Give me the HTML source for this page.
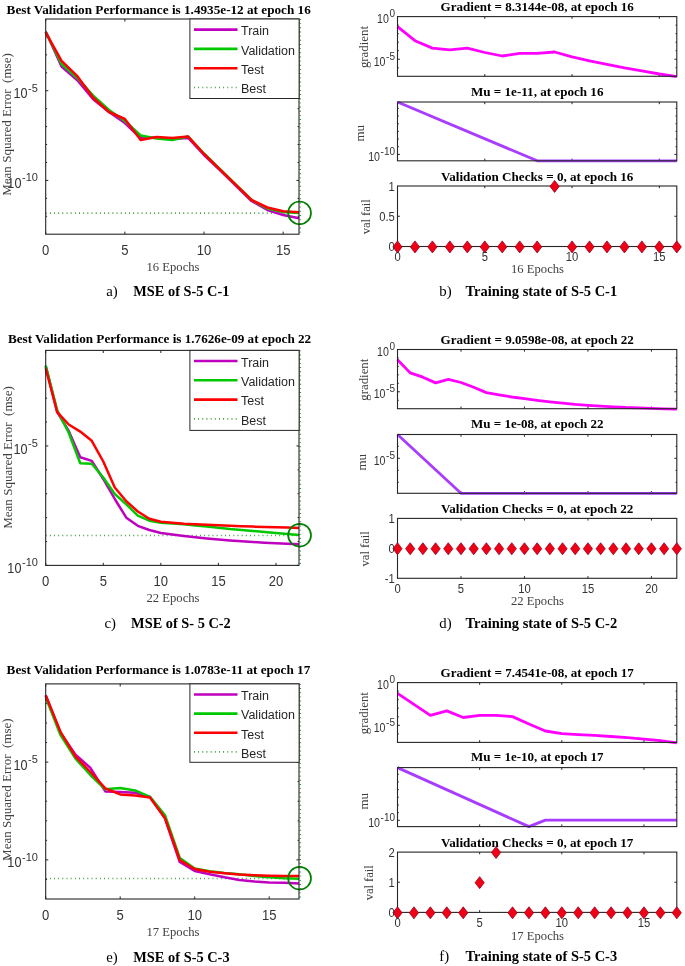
<!DOCTYPE html>
<html><head><meta charset="utf-8"><title>Training performance</title>
<style>html,body{margin:0;padding:0;background:#fff;}svg{display:block;will-change:transform;}</style>
</head><body>
<svg width="685" height="966" viewBox="0 0 685 966">
<rect width="685" height="966" fill="#fff"/>
<text x="158.7" y="13.9" font-size="13.4" font-family="'Liberation Serif', serif" font-weight="bold" text-anchor="middle" fill="#000" textLength="304.2" lengthAdjust="spacingAndGlyphs" >Best Validation Performance is 1.4935e-12 at epoch 16</text>
<line x1="45.7" y1="213.2" x2="299" y2="213.2" stroke="#339933" stroke-width="1.7" stroke-dasharray="0.9 3.27"/>
<line x1="300.2" y1="19" x2="300.2" y2="234.2" stroke="#339933" stroke-width="1.7" stroke-dasharray="0.9 3.27"/>
<path d="M45.7 234.2v-2.6 M45.7 19v2.6 M124.86 234.2v-2.6 M124.86 19v2.6 M204.01 234.2v-2.6 M204.01 19v2.6 M283.17 234.2v-2.6 M283.17 19v2.6 " stroke="#262626" stroke-width="1" fill="none"/>
<path d="M45.7 216.27h1.4 M299 216.27h-1.4 M45.7 198.33h1.4 M299 198.33h-1.4 M45.7 162.47h1.4 M299 162.47h-1.4 M45.7 144.53h1.4 M299 144.53h-1.4 M45.7 126.6h1.4 M299 126.6h-1.4 M45.7 108.67h1.4 M299 108.67h-1.4 M45.7 72.8h1.4 M299 72.8h-1.4 M45.7 54.87h1.4 M299 54.87h-1.4 M45.7 36.93h1.4 M299 36.93h-1.4 " stroke="#262626" stroke-width="1" fill="none"/>
<path d="M45.7 90.73h2.6 M299 90.73h-2.6 M45.7 180.4h2.6 M299 180.4h-2.6 " stroke="#262626" stroke-width="1" fill="none"/>
<polyline points="45.7,31.5 61.53,66.6 77.36,80.3 93.19,99.3 109.03,112 124.86,123 140.69,138 156.52,137.5 172.35,139 188.18,138 204.01,155 219.84,170 235.68,185.5 251.51,201 267.34,210 283.17,215 299,218.3" fill="none" stroke="#bf00bf" stroke-width="2.5" stroke-linejoin="round" stroke-linecap="butt" />
<polyline points="45.7,32 61.53,64 77.36,78 93.19,95.6 109.03,110 124.86,121 140.69,135.5 156.52,138.5 172.35,140 188.18,136.5 204.01,153.5 219.84,169 235.68,184.5 251.51,200 267.34,208.5 283.17,212 299,213" fill="none" stroke="#00c800" stroke-width="2.5" stroke-linejoin="round" stroke-linecap="butt" />
<polyline points="45.7,32.3 61.53,60.9 77.36,76.2 93.19,97.7 109.03,112 124.86,119 140.69,140 156.52,137 172.35,138 188.18,136.6 204.01,154 219.84,169.3 235.68,184.6 251.51,200 267.34,207.5 283.17,211.2 299,212.2" fill="none" stroke="#ff0000" stroke-width="2.5" stroke-linejoin="round" stroke-linecap="butt" />
<circle cx="299.6" cy="212.9" r="11.4" fill="none" stroke="#008000" stroke-width="1.7"/>
<rect x="45.7" y="19" width="253.3" height="215.2" fill="none" stroke="#262626" stroke-width="1.1"/>
<rect x="189.9" y="19" width="109.2" height="79.5" fill="#fff" stroke="#262626" stroke-width="1"/>
<line x1="194" y1="29.6" x2="237.5" y2="29.6" stroke="#bf00bf" stroke-width="2.6"/>
<text x="241" y="35.4" font-size="12.5" font-family="'Liberation Sans', sans-serif" font-weight="normal" text-anchor="start" fill="#262626" >Train</text>
<line x1="194" y1="48.9" x2="237.5" y2="48.9" stroke="#00c800" stroke-width="2.6"/>
<text x="241" y="54.7" font-size="12.5" font-family="'Liberation Sans', sans-serif" font-weight="normal" text-anchor="start" fill="#262626" >Validation</text>
<line x1="194" y1="68.2" x2="237.5" y2="68.2" stroke="#ff0000" stroke-width="2.6"/>
<text x="241" y="74" font-size="12.5" font-family="'Liberation Sans', sans-serif" font-weight="normal" text-anchor="start" fill="#262626" >Test</text>
<line x1="194" y1="87.5" x2="237.5" y2="87.5" stroke="#339933" stroke-width="1.7" stroke-dasharray="0.9 3.27"/>
<text x="241" y="93.3" font-size="12.5" font-family="'Liberation Sans', sans-serif" font-weight="normal" text-anchor="start" fill="#262626" >Best</text>
<text transform="translate(45.7,254.6) scale(0.9,1.04)" font-size="14.5" font-family="'Liberation Sans', sans-serif" font-weight="normal" text-anchor="middle" fill="#333333" >0</text>
<text transform="translate(124.86,254.6) scale(0.9,1.04)" font-size="14.5" font-family="'Liberation Sans', sans-serif" font-weight="normal" text-anchor="middle" fill="#333333" >5</text>
<text transform="translate(204.01,254.6) scale(0.9,1.04)" font-size="14.5" font-family="'Liberation Sans', sans-serif" font-weight="normal" text-anchor="middle" fill="#333333" >10</text>
<text transform="translate(283.17,254.6) scale(0.9,1.04)" font-size="14.5" font-family="'Liberation Sans', sans-serif" font-weight="normal" text-anchor="middle" fill="#333333" >15</text>
<text x="37.9" y="91.63" font-size="11" font-family="'Liberation Sans', sans-serif" fill="#333333" text-anchor="end">-5</text>
<text transform="translate(27.52,98.33) scale(0.87,1.03)" font-size="14.5" font-family="'Liberation Sans', sans-serif" fill="#333333" text-anchor="end">10</text>
<text x="37.9" y="181.3" font-size="11" font-family="'Liberation Sans', sans-serif" fill="#333333" text-anchor="end">-10</text>
<text transform="translate(21.4,188) scale(0.87,1.03)" font-size="14.5" font-family="'Liberation Sans', sans-serif" fill="#333333" text-anchor="end">10</text>
<text transform="translate(10.9,124.5) rotate(-90)" x="0" y="0" font-size="13" font-family="'Liberation Serif', serif" text-anchor="middle" fill="#404040" textLength="142.6" lengthAdjust="spacingAndGlyphs" xml:space="preserve">Mean Squared Error  (mse)</text>
<text x="173" y="270.6" font-size="13" font-family="'Liberation Serif', serif" font-weight="normal" text-anchor="middle" fill="#404040" textLength="53" lengthAdjust="spacingAndGlyphs" >16 Epochs</text>
<text x="106.3" y="295.8" font-size="14.8" font-family="'Liberation Serif', serif" font-weight="normal" text-anchor="start" fill="#000" >a)</text>
<text x="133.3" y="295.8" font-size="14.8" font-family="'Liberation Serif', serif" font-weight="bold" text-anchor="start" fill="#000" textLength="96.1" lengthAdjust="spacingAndGlyphs" >MSE of S-5 C-1</text>
<text x="159.55" y="343" font-size="13.4" font-family="'Liberation Serif', serif" font-weight="bold" text-anchor="middle" fill="#000" textLength="303.3" lengthAdjust="spacingAndGlyphs" >Best Validation Performance is 1.7626e-09 at epoch 22</text>
<line x1="45.7" y1="535.5" x2="299" y2="535.5" stroke="#339933" stroke-width="1.7" stroke-dasharray="0.9 3.27"/>
<line x1="300.2" y1="350.4" x2="300.2" y2="565.4" stroke="#339933" stroke-width="1.7" stroke-dasharray="0.9 3.27"/>
<path d="M45.7 565.4v-2.6 M45.7 350.4v2.6 M103.27 565.4v-2.6 M103.27 350.4v2.6 M160.84 565.4v-2.6 M160.84 350.4v2.6 M218.4 565.4v-2.6 M218.4 350.4v2.6 M275.97 565.4v-2.6 M275.97 350.4v2.6 " stroke="#262626" stroke-width="1" fill="none"/>
<path d="M45.7 541.51h1.4 M299 541.51h-1.4 M45.7 517.62h1.4 M299 517.62h-1.4 M45.7 493.73h1.4 M299 493.73h-1.4 M45.7 469.84h1.4 M299 469.84h-1.4 M45.7 422.07h1.4 M299 422.07h-1.4 M45.7 398.18h1.4 M299 398.18h-1.4 M45.7 374.29h1.4 M299 374.29h-1.4 " stroke="#262626" stroke-width="1" fill="none"/>
<path d="M45.7 445.96h2.6 M299 445.96h-2.6 M45.7 565.4h2.6 M299 565.4h-2.6 " stroke="#262626" stroke-width="1" fill="none"/>
<polyline points="45.7,366 57.21,412 68.73,431 80.24,457.2 91.75,460.9 103.27,479 114.78,499 126.3,517.7 137.81,525.8 149.32,530 160.84,533 172.35,534.5 183.86,536 195.38,537.3 206.89,538.5 218.4,539.5 229.92,540.5 241.43,541.3 252.95,542 264.46,542.7 275.97,543.3 287.49,543.8 299,544.2" fill="none" stroke="#bf00bf" stroke-width="2.5" stroke-linejoin="round" stroke-linecap="butt" />
<polyline points="45.7,365.6 57.21,410.2 68.73,432.7 80.24,463.3 91.75,463.7 103.27,477.5 114.78,494 126.3,504.4 137.81,515.6 149.32,520.7 160.84,522.8 172.35,523.5 183.86,524.2 195.38,525.5 206.89,526.6 218.4,527.7 229.92,529 241.43,530 252.95,531 264.46,532 275.97,533 287.49,534 299,535.1" fill="none" stroke="#00c800" stroke-width="2.5" stroke-linejoin="round" stroke-linecap="butt" />
<polyline points="45.7,368.3 57.21,412.2 68.73,424.5 80.24,431.6 91.75,440.8 103.27,461.5 114.78,487.5 126.3,501.3 137.81,511.5 149.32,518.7 160.84,521.7 172.35,522.8 183.86,523.8 195.38,524.3 206.89,524.8 218.4,525.3 229.92,525.8 241.43,526.2 252.95,526.6 264.46,527 275.97,527.3 287.49,527.6 299,527.9" fill="none" stroke="#ff0000" stroke-width="2.5" stroke-linejoin="round" stroke-linecap="butt" />
<circle cx="299.6" cy="535.2" r="11.4" fill="none" stroke="#008000" stroke-width="1.7"/>
<rect x="45.7" y="350.4" width="253.3" height="215" fill="none" stroke="#262626" stroke-width="1.1"/>
<rect x="189.9" y="350.4" width="109.2" height="80" fill="#fff" stroke="#262626" stroke-width="1"/>
<line x1="194" y1="361" x2="237.5" y2="361" stroke="#bf00bf" stroke-width="2.6"/>
<text x="241" y="366.8" font-size="12.5" font-family="'Liberation Sans', sans-serif" font-weight="normal" text-anchor="start" fill="#262626" >Train</text>
<line x1="194" y1="380.3" x2="237.5" y2="380.3" stroke="#00c800" stroke-width="2.6"/>
<text x="241" y="386.1" font-size="12.5" font-family="'Liberation Sans', sans-serif" font-weight="normal" text-anchor="start" fill="#262626" >Validation</text>
<line x1="194" y1="399.6" x2="237.5" y2="399.6" stroke="#ff0000" stroke-width="2.6"/>
<text x="241" y="405.4" font-size="12.5" font-family="'Liberation Sans', sans-serif" font-weight="normal" text-anchor="start" fill="#262626" >Test</text>
<line x1="194" y1="418.9" x2="237.5" y2="418.9" stroke="#339933" stroke-width="1.7" stroke-dasharray="0.9 3.27"/>
<text x="241" y="424.7" font-size="12.5" font-family="'Liberation Sans', sans-serif" font-weight="normal" text-anchor="start" fill="#262626" >Best</text>
<text transform="translate(45.7,586) scale(0.9,1.04)" font-size="14.5" font-family="'Liberation Sans', sans-serif" font-weight="normal" text-anchor="middle" fill="#333333" >0</text>
<text transform="translate(103.27,586) scale(0.9,1.04)" font-size="14.5" font-family="'Liberation Sans', sans-serif" font-weight="normal" text-anchor="middle" fill="#333333" >5</text>
<text transform="translate(160.84,586) scale(0.9,1.04)" font-size="14.5" font-family="'Liberation Sans', sans-serif" font-weight="normal" text-anchor="middle" fill="#333333" >10</text>
<text transform="translate(218.4,586) scale(0.9,1.04)" font-size="14.5" font-family="'Liberation Sans', sans-serif" font-weight="normal" text-anchor="middle" fill="#333333" >15</text>
<text transform="translate(275.97,586) scale(0.9,1.04)" font-size="14.5" font-family="'Liberation Sans', sans-serif" font-weight="normal" text-anchor="middle" fill="#333333" >20</text>
<text x="37.9" y="446.86" font-size="11" font-family="'Liberation Sans', sans-serif" fill="#333333" text-anchor="end">-5</text>
<text transform="translate(27.52,453.56) scale(0.87,1.03)" font-size="14.5" font-family="'Liberation Sans', sans-serif" fill="#333333" text-anchor="end">10</text>
<text x="37.9" y="566.3" font-size="11" font-family="'Liberation Sans', sans-serif" fill="#333333" text-anchor="end">-10</text>
<text transform="translate(21.4,573) scale(0.87,1.03)" font-size="14.5" font-family="'Liberation Sans', sans-serif" fill="#333333" text-anchor="end">10</text>
<text transform="translate(11.8,457.5) rotate(-90)" x="0" y="0" font-size="13" font-family="'Liberation Serif', serif" text-anchor="middle" fill="#404040" textLength="142.6" lengthAdjust="spacingAndGlyphs" xml:space="preserve">Mean Squared Error  (mse)</text>
<text x="173" y="602.1" font-size="13" font-family="'Liberation Serif', serif" font-weight="normal" text-anchor="middle" fill="#404040" textLength="53" lengthAdjust="spacingAndGlyphs" >22 Epochs</text>
<text x="104.5" y="627.6" font-size="14.8" font-family="'Liberation Serif', serif" font-weight="normal" text-anchor="start" fill="#000" >c)</text>
<text x="131.1" y="627.6" font-size="14.8" font-family="'Liberation Serif', serif" font-weight="bold" text-anchor="start" fill="#000" textLength="99.7" lengthAdjust="spacingAndGlyphs" >MSE of S- 5 C-2</text>
<text x="158.45" y="674.4" font-size="13.4" font-family="'Liberation Serif', serif" font-weight="bold" text-anchor="middle" fill="#000" textLength="303.7" lengthAdjust="spacingAndGlyphs" >Best Validation Performance is 1.0783e-11 at epoch 17</text>
<line x1="45.7" y1="878.5" x2="299" y2="878.5" stroke="#339933" stroke-width="1.7" stroke-dasharray="0.9 3.27"/>
<line x1="300.2" y1="683.9" x2="300.2" y2="899" stroke="#339933" stroke-width="1.7" stroke-dasharray="0.9 3.27"/>
<path d="M45.7 899v-2.6 M45.7 683.9v2.6 M120.2 899v-2.6 M120.2 683.9v2.6 M194.7 899v-2.6 M194.7 683.9v2.6 M269.2 899v-2.6 M269.2 683.9v2.6 " stroke="#262626" stroke-width="1" fill="none"/>
<path d="M45.7 879.45h1.4 M299 879.45h-1.4 M45.7 840.34h1.4 M299 840.34h-1.4 M45.7 820.78h1.4 M299 820.78h-1.4 M45.7 801.23h1.4 M299 801.23h-1.4 M45.7 781.67h1.4 M299 781.67h-1.4 M45.7 742.56h1.4 M299 742.56h-1.4 M45.7 723.01h1.4 M299 723.01h-1.4 M45.7 703.45h1.4 M299 703.45h-1.4 " stroke="#262626" stroke-width="1" fill="none"/>
<path d="M45.7 762.12h2.6 M299 762.12h-2.6 M45.7 859.89h2.6 M299 859.89h-2.6 " stroke="#262626" stroke-width="1" fill="none"/>
<polyline points="45.7,695.5 60.6,733 75.5,754.6 90.4,767.9 105.3,791.4 120.2,792 135.1,792.8 150,797 164.9,818 179.8,862 194.7,871 209.6,874.2 224.5,877.3 239.4,880 254.3,881.4 269.2,882.4 284.1,882.8 299,883.4" fill="none" stroke="#bf00bf" stroke-width="2.5" stroke-linejoin="round" stroke-linecap="butt" />
<polyline points="45.7,697.4 60.6,735.2 75.5,758.7 90.4,775 105.3,789.3 120.2,787.9 135.1,790.4 150,796.9 164.9,815 179.8,858 194.7,868.5 209.6,871.2 224.5,873 239.4,874.2 254.3,875.9 269.2,877.3 284.1,878.3 299,878.7" fill="none" stroke="#00c800" stroke-width="2.5" stroke-linejoin="round" stroke-linecap="butt" />
<polyline points="45.7,695.3 60.6,732.1 75.5,756.6 90.4,772 105.3,788.3 120.2,794.4 135.1,795.5 150,797.5 164.9,818 179.8,860 194.7,869 209.6,871.8 224.5,873.2 239.4,874.6 254.3,875.3 269.2,875.7 284.1,875.9 299,875.9" fill="none" stroke="#ff0000" stroke-width="2.5" stroke-linejoin="round" stroke-linecap="butt" />
<circle cx="299.6" cy="878.2" r="11.4" fill="none" stroke="#008000" stroke-width="1.7"/>
<rect x="45.7" y="683.9" width="253.3" height="215.1" fill="none" stroke="#262626" stroke-width="1.1"/>
<rect x="189.9" y="683.9" width="109.2" height="78.4" fill="#fff" stroke="#262626" stroke-width="1"/>
<line x1="194" y1="694.5" x2="237.5" y2="694.5" stroke="#bf00bf" stroke-width="2.6"/>
<text x="241" y="700.3" font-size="12.5" font-family="'Liberation Sans', sans-serif" font-weight="normal" text-anchor="start" fill="#262626" >Train</text>
<line x1="194" y1="713.6" x2="237.5" y2="713.6" stroke="#00c800" stroke-width="2.6"/>
<text x="241" y="719.4" font-size="12.5" font-family="'Liberation Sans', sans-serif" font-weight="normal" text-anchor="start" fill="#262626" >Validation</text>
<line x1="194" y1="732.7" x2="237.5" y2="732.7" stroke="#ff0000" stroke-width="2.6"/>
<text x="241" y="738.5" font-size="12.5" font-family="'Liberation Sans', sans-serif" font-weight="normal" text-anchor="start" fill="#262626" >Test</text>
<line x1="194" y1="751.8" x2="237.5" y2="751.8" stroke="#339933" stroke-width="1.7" stroke-dasharray="0.9 3.27"/>
<text x="241" y="757.6" font-size="12.5" font-family="'Liberation Sans', sans-serif" font-weight="normal" text-anchor="start" fill="#262626" >Best</text>
<text transform="translate(45.7,919.6) scale(0.9,1.04)" font-size="14.5" font-family="'Liberation Sans', sans-serif" font-weight="normal" text-anchor="middle" fill="#333333" >0</text>
<text transform="translate(120.2,919.6) scale(0.9,1.04)" font-size="14.5" font-family="'Liberation Sans', sans-serif" font-weight="normal" text-anchor="middle" fill="#333333" >5</text>
<text transform="translate(194.7,919.6) scale(0.9,1.04)" font-size="14.5" font-family="'Liberation Sans', sans-serif" font-weight="normal" text-anchor="middle" fill="#333333" >10</text>
<text transform="translate(269.2,919.6) scale(0.9,1.04)" font-size="14.5" font-family="'Liberation Sans', sans-serif" font-weight="normal" text-anchor="middle" fill="#333333" >15</text>
<text x="37.9" y="763.02" font-size="11" font-family="'Liberation Sans', sans-serif" fill="#333333" text-anchor="end">-5</text>
<text transform="translate(27.52,769.72) scale(0.87,1.03)" font-size="14.5" font-family="'Liberation Sans', sans-serif" fill="#333333" text-anchor="end">10</text>
<text x="37.9" y="860.79" font-size="11" font-family="'Liberation Sans', sans-serif" fill="#333333" text-anchor="end">-10</text>
<text transform="translate(21.4,867.49) scale(0.87,1.03)" font-size="14.5" font-family="'Liberation Sans', sans-serif" fill="#333333" text-anchor="end">10</text>
<text transform="translate(11.2,789.6) rotate(-90)" x="0" y="0" font-size="13" font-family="'Liberation Serif', serif" text-anchor="middle" fill="#404040" textLength="142.6" lengthAdjust="spacingAndGlyphs" xml:space="preserve">Mean Squared Error  (mse)</text>
<text x="173" y="936" font-size="13" font-family="'Liberation Serif', serif" font-weight="normal" text-anchor="middle" fill="#404040" textLength="53" lengthAdjust="spacingAndGlyphs" >17 Epochs</text>
<text x="106.3" y="961.9" font-size="14.8" font-family="'Liberation Serif', serif" font-weight="normal" text-anchor="start" fill="#000" >e)</text>
<text x="133.3" y="961.9" font-size="14.8" font-family="'Liberation Serif', serif" font-weight="bold" text-anchor="start" fill="#000" textLength="96.3" lengthAdjust="spacingAndGlyphs" >MSE of S-5 C-3</text>
<text x="537.2" y="10.6" font-size="12.9" font-family="'Liberation Serif', serif" font-weight="bold" text-anchor="middle" fill="#000" textLength="193.2" lengthAdjust="spacingAndGlyphs" >Gradient = 8.3144e-08, at epoch 16</text>
<path d="M397.5 76.3v-2.2 M397.5 16.6v2.2 M484.78 76.3v-2.2 M484.78 16.6v2.2 M572.06 76.3v-2.2 M572.06 16.6v2.2 M659.34 76.3v-2.2 M659.34 16.6v2.2 " stroke="#262626" stroke-width="1" fill="none"/>
<path d="M397.5 25.13h1.3 M676.8 25.13h-1.3 M397.5 33.66h1.3 M676.8 33.66h-1.3 M397.5 42.19h1.3 M676.8 42.19h-1.3 M397.5 50.71h1.3 M676.8 50.71h-1.3 M397.5 67.77h1.3 M676.8 67.77h-1.3 " stroke="#262626" stroke-width="1" fill="none"/>
<path d="M397.5 59.24h2.4 M676.8 59.24h-2.4 " stroke="#262626" stroke-width="1" fill="none"/>
<polyline points="397.5,26.6 414.96,40.7 432.41,48.1 449.87,49.9 467.32,48.1 484.78,52.5 502.24,56 519.69,53.4 537.15,53.4 554.61,52 572.06,56.9 589.52,60.8 606.97,64.3 624.43,67.8 641.89,70.9 659.34,74 676.8,76.6" fill="none" stroke="#ff00ff" stroke-width="2.8" stroke-linejoin="round" stroke-linecap="butt" />
<rect x="397.5" y="16.6" width="279.3" height="59.7" fill="none" stroke="#262626" stroke-width="1.1"/>
<text x="395" y="17.2" font-size="10" font-family="'Liberation Sans', sans-serif" fill="#333333" text-anchor="end">0</text>
<text transform="translate(388.84,23.1) scale(0.85,1.03)" font-size="12.5" font-family="'Liberation Sans', sans-serif" fill="#333333" text-anchor="end">10</text>
<text x="395" y="59.84" font-size="10" font-family="'Liberation Sans', sans-serif" fill="#333333" text-anchor="end">-5</text>
<text transform="translate(385.51,65.74) scale(0.85,1.03)" font-size="12.5" font-family="'Liberation Sans', sans-serif" fill="#333333" text-anchor="end">10</text>
<text transform="translate(368,47.05) rotate(-90)" font-size="12" font-family="'Liberation Serif', serif" text-anchor="middle" fill="#404040" textLength="42.1" lengthAdjust="spacingAndGlyphs">gradient</text>
<text x="537.2" y="95.7" font-size="12.9" font-family="'Liberation Serif', serif" font-weight="bold" text-anchor="middle" fill="#000" textLength="132.5" lengthAdjust="spacingAndGlyphs" >Mu = 1e-11, at epoch 16</text>
<path d="M397.5 160.8v-2.2 M397.5 102v2.2 M484.78 160.8v-2.2 M484.78 102v2.2 M572.06 160.8v-2.2 M572.06 102v2.2 M659.34 160.8v-2.2 M659.34 102v2.2 " stroke="#262626" stroke-width="1" fill="none"/>
<path d="M397.5 146.73h1.3 M676.8 146.73h-1.3 M397.5 139.06h1.3 M676.8 139.06h-1.3 M397.5 131.39h1.3 M676.8 131.39h-1.3 M397.5 123.72h1.3 M676.8 123.72h-1.3 M397.5 116.05h1.3 M676.8 116.05h-1.3 M397.5 108.38h1.3 M676.8 108.38h-1.3 " stroke="#262626" stroke-width="1" fill="none"/>
<path d="M397.5 154.4h2.4 M676.8 154.4h-2.4 " stroke="#262626" stroke-width="1" fill="none"/>
<polyline points="397.5,102 537.15,160.8 676.8,160.8" fill="none" stroke="#a83cff" stroke-width="2.8" stroke-linejoin="round" stroke-linecap="butt" />
<rect x="397.5" y="102" width="279.3" height="58.8" fill="none" stroke="#262626" stroke-width="1.1"/>
<text x="395" y="155" font-size="10" font-family="'Liberation Sans', sans-serif" fill="#333333" text-anchor="end">-10</text>
<text transform="translate(379.95,160.9) scale(0.85,1.03)" font-size="12.5" font-family="'Liberation Sans', sans-serif" fill="#333333" text-anchor="end">10</text>
<text transform="translate(364.2,133.3) rotate(-90)" font-size="13" font-family="'Liberation Serif', serif" text-anchor="middle" fill="#404040">mu</text>
<text x="537.2" y="180.8" font-size="12.9" font-family="'Liberation Serif', serif" font-weight="bold" text-anchor="middle" fill="#000" textLength="192.5" lengthAdjust="spacingAndGlyphs" >Validation Checks = 0, at epoch 16</text>
<path d="M397.5 246.5v-2.2 M397.5 186v2.2 M484.78 246.5v-2.2 M484.78 186v2.2 M572.06 246.5v-2.2 M572.06 186v2.2 M659.34 246.5v-2.2 M659.34 186v2.2 " stroke="#262626" stroke-width="1" fill="none"/>
<path d="M397.5 216.25h2.4 M676.8 216.25h-2.4 " stroke="#262626" stroke-width="1" fill="none"/>
<rect x="397.5" y="186" width="279.3" height="60.5" fill="none" stroke="#262626" stroke-width="1.1"/>
<path d="M397.5 240.9L402.1 246.9L397.5 252.9L392.9 246.9Z" fill="#f00014" stroke="#a00020" stroke-width="0.8"/>
<path d="M414.96 240.9L419.56 246.9L414.96 252.9L410.36 246.9Z" fill="#f00014" stroke="#a00020" stroke-width="0.8"/>
<path d="M432.41 240.9L437.01 246.9L432.41 252.9L427.81 246.9Z" fill="#f00014" stroke="#a00020" stroke-width="0.8"/>
<path d="M449.87 240.9L454.47 246.9L449.87 252.9L445.27 246.9Z" fill="#f00014" stroke="#a00020" stroke-width="0.8"/>
<path d="M467.32 240.9L471.93 246.9L467.32 252.9L462.72 246.9Z" fill="#f00014" stroke="#a00020" stroke-width="0.8"/>
<path d="M484.78 240.9L489.38 246.9L484.78 252.9L480.18 246.9Z" fill="#f00014" stroke="#a00020" stroke-width="0.8"/>
<path d="M502.24 240.9L506.84 246.9L502.24 252.9L497.64 246.9Z" fill="#f00014" stroke="#a00020" stroke-width="0.8"/>
<path d="M519.69 240.9L524.29 246.9L519.69 252.9L515.09 246.9Z" fill="#f00014" stroke="#a00020" stroke-width="0.8"/>
<path d="M537.15 240.9L541.75 246.9L537.15 252.9L532.55 246.9Z" fill="#f00014" stroke="#a00020" stroke-width="0.8"/>
<path d="M554.61 180.4L559.21 186.4L554.61 192.4L550.01 186.4Z" fill="#f00014" stroke="#a00020" stroke-width="0.8"/>
<path d="M572.06 240.9L576.66 246.9L572.06 252.9L567.46 246.9Z" fill="#f00014" stroke="#a00020" stroke-width="0.8"/>
<path d="M589.52 240.9L594.12 246.9L589.52 252.9L584.92 246.9Z" fill="#f00014" stroke="#a00020" stroke-width="0.8"/>
<path d="M606.97 240.9L611.57 246.9L606.97 252.9L602.37 246.9Z" fill="#f00014" stroke="#a00020" stroke-width="0.8"/>
<path d="M624.43 240.9L629.03 246.9L624.43 252.9L619.83 246.9Z" fill="#f00014" stroke="#a00020" stroke-width="0.8"/>
<path d="M641.89 240.9L646.49 246.9L641.89 252.9L637.29 246.9Z" fill="#f00014" stroke="#a00020" stroke-width="0.8"/>
<path d="M659.34 240.9L663.94 246.9L659.34 252.9L654.74 246.9Z" fill="#f00014" stroke="#a00020" stroke-width="0.8"/>
<path d="M676.8 240.9L681.4 246.9L676.8 252.9L672.2 246.9Z" fill="#f00014" stroke="#a00020" stroke-width="0.8"/>
<text transform="translate(394.8,251) scale(0.9,1.04)" font-size="12.5" font-family="'Liberation Sans', sans-serif" font-weight="normal" text-anchor="end" fill="#333333" >0</text>
<text transform="translate(394.8,220.75) scale(0.9,1.04)" font-size="12.5" font-family="'Liberation Sans', sans-serif" font-weight="normal" text-anchor="end" fill="#333333" >0.5</text>
<text transform="translate(394.8,190.5) scale(0.9,1.04)" font-size="12.5" font-family="'Liberation Sans', sans-serif" font-weight="normal" text-anchor="end" fill="#333333" >1</text>
<text transform="translate(370.2,216.75) rotate(-90)" font-size="12.5" font-family="'Liberation Serif', serif" text-anchor="middle" fill="#404040">val fail</text>
<text transform="translate(397.5,261.3) scale(0.9,1.04)" font-size="12.5" font-family="'Liberation Sans', sans-serif" font-weight="normal" text-anchor="middle" fill="#333333" >0</text>
<text transform="translate(484.78,261.3) scale(0.9,1.04)" font-size="12.5" font-family="'Liberation Sans', sans-serif" font-weight="normal" text-anchor="middle" fill="#333333" >5</text>
<text transform="translate(572.06,261.3) scale(0.9,1.04)" font-size="12.5" font-family="'Liberation Sans', sans-serif" font-weight="normal" text-anchor="middle" fill="#333333" >10</text>
<text transform="translate(659.34,261.3) scale(0.9,1.04)" font-size="12.5" font-family="'Liberation Sans', sans-serif" font-weight="normal" text-anchor="middle" fill="#333333" >15</text>
<text x="537.5" y="272.7" font-size="13" font-family="'Liberation Serif', serif" font-weight="normal" text-anchor="middle" fill="#404040" textLength="53" lengthAdjust="spacingAndGlyphs" >16 Epochs</text>
<text x="439.3" y="296.2" font-size="14.8" font-family="'Liberation Serif', serif" font-weight="normal" text-anchor="start" fill="#000" >b)</text>
<text x="465.4" y="296.2" font-size="14.8" font-family="'Liberation Serif', serif" font-weight="bold" text-anchor="start" fill="#000" textLength="151.8" lengthAdjust="spacingAndGlyphs" >Training state of S-5 C-1</text>
<text x="537.2" y="343.5" font-size="12.9" font-family="'Liberation Serif', serif" font-weight="bold" text-anchor="middle" fill="#000" textLength="193.2" lengthAdjust="spacingAndGlyphs" >Gradient = 9.0598e-08, at epoch 22</text>
<path d="M397.5 408.7v-2.2 M397.5 349.5v2.2 M460.98 408.7v-2.2 M460.98 349.5v2.2 M524.45 408.7v-2.2 M524.45 349.5v2.2 M587.93 408.7v-2.2 M587.93 349.5v2.2 M651.41 408.7v-2.2 M651.41 349.5v2.2 " stroke="#262626" stroke-width="1" fill="none"/>
<path d="M397.5 357.96h1.3 M676.8 357.96h-1.3 M397.5 366.41h1.3 M676.8 366.41h-1.3 M397.5 374.87h1.3 M676.8 374.87h-1.3 M397.5 383.33h1.3 M676.8 383.33h-1.3 M397.5 400.24h1.3 M676.8 400.24h-1.3 " stroke="#262626" stroke-width="1" fill="none"/>
<path d="M397.5 391.79h2.4 M676.8 391.79h-2.4 " stroke="#262626" stroke-width="1" fill="none"/>
<polyline points="397.5,359.7 410.2,372.9 422.89,377.2 435.59,382.9 448.28,379.4 460.98,382.5 473.67,387.3 486.37,392.6 499.06,394.8 511.76,397 524.45,398.7 537.15,400.3 549.85,401.8 562.54,403.1 575.24,404.4 587.93,405.3 600.63,406.1 613.32,406.8 626.02,407.5 638.71,407.9 651.41,408.3 664.1,408.8 676.8,409.2" fill="none" stroke="#ff00ff" stroke-width="2.8" stroke-linejoin="round" stroke-linecap="butt" />
<rect x="397.5" y="349.5" width="279.3" height="59.2" fill="none" stroke="#262626" stroke-width="1.1"/>
<text x="395" y="350.1" font-size="10" font-family="'Liberation Sans', sans-serif" fill="#333333" text-anchor="end">0</text>
<text transform="translate(388.84,356) scale(0.85,1.03)" font-size="12.5" font-family="'Liberation Sans', sans-serif" fill="#333333" text-anchor="end">10</text>
<text x="395" y="392.39" font-size="10" font-family="'Liberation Sans', sans-serif" fill="#333333" text-anchor="end">-5</text>
<text transform="translate(385.51,398.29) scale(0.85,1.03)" font-size="12.5" font-family="'Liberation Sans', sans-serif" fill="#333333" text-anchor="end">10</text>
<text transform="translate(368,379.7) rotate(-90)" font-size="12" font-family="'Liberation Serif', serif" text-anchor="middle" fill="#404040" textLength="42.1" lengthAdjust="spacingAndGlyphs">gradient</text>
<text x="537.2" y="428.2" font-size="12.9" font-family="'Liberation Serif', serif" font-weight="bold" text-anchor="middle" fill="#000" textLength="132.5" lengthAdjust="spacingAndGlyphs" >Mu = 1e-08, at epoch 22</text>
<path d="M397.5 493.3v-2.2 M397.5 434.5v2.2 M460.98 493.3v-2.2 M460.98 434.5v2.2 M524.45 493.3v-2.2 M524.45 434.5v2.2 M587.93 493.3v-2.2 M587.93 434.5v2.2 M651.41 493.3v-2.2 M651.41 434.5v2.2 " stroke="#262626" stroke-width="1" fill="none"/>
<path d="M397.5 482.3h1.3 M676.8 482.3h-1.3 M397.5 470.3h1.3 M676.8 470.3h-1.3 M397.5 446.3h1.3 M676.8 446.3h-1.3 " stroke="#262626" stroke-width="1" fill="none"/>
<path d="M397.5 458.3h2.4 M676.8 458.3h-2.4 " stroke="#262626" stroke-width="1" fill="none"/>
<polyline points="397.5,434.5 460.98,493.3 676.8,493.3" fill="none" stroke="#a83cff" stroke-width="2.8" stroke-linejoin="round" stroke-linecap="butt" />
<rect x="397.5" y="434.5" width="279.3" height="58.8" fill="none" stroke="#262626" stroke-width="1.1"/>
<text x="395" y="458.9" font-size="10" font-family="'Liberation Sans', sans-serif" fill="#333333" text-anchor="end">-5</text>
<text transform="translate(385.51,464.8) scale(0.85,1.03)" font-size="12.5" font-family="'Liberation Sans', sans-serif" fill="#333333" text-anchor="end">10</text>
<text transform="translate(365.9,462.3) rotate(-90)" font-size="13" font-family="'Liberation Serif', serif" text-anchor="middle" fill="#404040">mu</text>
<text x="537.2" y="513.2" font-size="12.9" font-family="'Liberation Serif', serif" font-weight="bold" text-anchor="middle" fill="#000" textLength="192.5" lengthAdjust="spacingAndGlyphs" >Validation Checks = 0, at epoch 22</text>
<path d="M397.5 578.3v-2.2 M397.5 518.4v2.2 M460.98 578.3v-2.2 M460.98 518.4v2.2 M524.45 578.3v-2.2 M524.45 518.4v2.2 M587.93 578.3v-2.2 M587.93 518.4v2.2 M651.41 578.3v-2.2 M651.41 518.4v2.2 " stroke="#262626" stroke-width="1" fill="none"/>
<path d="M397.5 548.35h2.4 M676.8 548.35h-2.4 " stroke="#262626" stroke-width="1" fill="none"/>
<rect x="397.5" y="518.4" width="279.3" height="59.9" fill="none" stroke="#262626" stroke-width="1.1"/>
<path d="M397.5 542.75L402.1 548.75L397.5 554.75L392.9 548.75Z" fill="#f00014" stroke="#a00020" stroke-width="0.8"/>
<path d="M410.2 542.75L414.8 548.75L410.2 554.75L405.6 548.75Z" fill="#f00014" stroke="#a00020" stroke-width="0.8"/>
<path d="M422.89 542.75L427.49 548.75L422.89 554.75L418.29 548.75Z" fill="#f00014" stroke="#a00020" stroke-width="0.8"/>
<path d="M435.59 542.75L440.19 548.75L435.59 554.75L430.99 548.75Z" fill="#f00014" stroke="#a00020" stroke-width="0.8"/>
<path d="M448.28 542.75L452.88 548.75L448.28 554.75L443.68 548.75Z" fill="#f00014" stroke="#a00020" stroke-width="0.8"/>
<path d="M460.98 542.75L465.58 548.75L460.98 554.75L456.38 548.75Z" fill="#f00014" stroke="#a00020" stroke-width="0.8"/>
<path d="M473.67 542.75L478.27 548.75L473.67 554.75L469.07 548.75Z" fill="#f00014" stroke="#a00020" stroke-width="0.8"/>
<path d="M486.37 542.75L490.97 548.75L486.37 554.75L481.77 548.75Z" fill="#f00014" stroke="#a00020" stroke-width="0.8"/>
<path d="M499.06 542.75L503.66 548.75L499.06 554.75L494.46 548.75Z" fill="#f00014" stroke="#a00020" stroke-width="0.8"/>
<path d="M511.76 542.75L516.36 548.75L511.76 554.75L507.16 548.75Z" fill="#f00014" stroke="#a00020" stroke-width="0.8"/>
<path d="M524.45 542.75L529.05 548.75L524.45 554.75L519.85 548.75Z" fill="#f00014" stroke="#a00020" stroke-width="0.8"/>
<path d="M537.15 542.75L541.75 548.75L537.15 554.75L532.55 548.75Z" fill="#f00014" stroke="#a00020" stroke-width="0.8"/>
<path d="M549.85 542.75L554.45 548.75L549.85 554.75L545.25 548.75Z" fill="#f00014" stroke="#a00020" stroke-width="0.8"/>
<path d="M562.54 542.75L567.14 548.75L562.54 554.75L557.94 548.75Z" fill="#f00014" stroke="#a00020" stroke-width="0.8"/>
<path d="M575.24 542.75L579.84 548.75L575.24 554.75L570.64 548.75Z" fill="#f00014" stroke="#a00020" stroke-width="0.8"/>
<path d="M587.93 542.75L592.53 548.75L587.93 554.75L583.33 548.75Z" fill="#f00014" stroke="#a00020" stroke-width="0.8"/>
<path d="M600.63 542.75L605.23 548.75L600.63 554.75L596.03 548.75Z" fill="#f00014" stroke="#a00020" stroke-width="0.8"/>
<path d="M613.32 542.75L617.92 548.75L613.32 554.75L608.72 548.75Z" fill="#f00014" stroke="#a00020" stroke-width="0.8"/>
<path d="M626.02 542.75L630.62 548.75L626.02 554.75L621.42 548.75Z" fill="#f00014" stroke="#a00020" stroke-width="0.8"/>
<path d="M638.71 542.75L643.31 548.75L638.71 554.75L634.11 548.75Z" fill="#f00014" stroke="#a00020" stroke-width="0.8"/>
<path d="M651.41 542.75L656.01 548.75L651.41 554.75L646.81 548.75Z" fill="#f00014" stroke="#a00020" stroke-width="0.8"/>
<path d="M664.1 542.75L668.7 548.75L664.1 554.75L659.5 548.75Z" fill="#f00014" stroke="#a00020" stroke-width="0.8"/>
<path d="M676.8 542.75L681.4 548.75L676.8 554.75L672.2 548.75Z" fill="#f00014" stroke="#a00020" stroke-width="0.8"/>
<text transform="translate(394.8,582.8) scale(0.9,1.04)" font-size="12.5" font-family="'Liberation Sans', sans-serif" font-weight="normal" text-anchor="end" fill="#333333" >-1</text>
<text transform="translate(394.8,552.85) scale(0.9,1.04)" font-size="12.5" font-family="'Liberation Sans', sans-serif" font-weight="normal" text-anchor="end" fill="#333333" >0</text>
<text transform="translate(394.8,522.9) scale(0.9,1.04)" font-size="12.5" font-family="'Liberation Sans', sans-serif" font-weight="normal" text-anchor="end" fill="#333333" >1</text>
<text transform="translate(368.8,548.85) rotate(-90)" font-size="12.5" font-family="'Liberation Serif', serif" text-anchor="middle" fill="#404040">val fail</text>
<text transform="translate(397.5,593.1) scale(0.9,1.04)" font-size="12.5" font-family="'Liberation Sans', sans-serif" font-weight="normal" text-anchor="middle" fill="#333333" >0</text>
<text transform="translate(460.98,593.1) scale(0.9,1.04)" font-size="12.5" font-family="'Liberation Sans', sans-serif" font-weight="normal" text-anchor="middle" fill="#333333" >5</text>
<text transform="translate(524.45,593.1) scale(0.9,1.04)" font-size="12.5" font-family="'Liberation Sans', sans-serif" font-weight="normal" text-anchor="middle" fill="#333333" >10</text>
<text transform="translate(587.93,593.1) scale(0.9,1.04)" font-size="12.5" font-family="'Liberation Sans', sans-serif" font-weight="normal" text-anchor="middle" fill="#333333" >15</text>
<text transform="translate(651.41,593.1) scale(0.9,1.04)" font-size="12.5" font-family="'Liberation Sans', sans-serif" font-weight="normal" text-anchor="middle" fill="#333333" >20</text>
<text x="537.5" y="605.3" font-size="13" font-family="'Liberation Serif', serif" font-weight="normal" text-anchor="middle" fill="#404040" textLength="53" lengthAdjust="spacingAndGlyphs" >22 Epochs</text>
<text x="439.3" y="628.1" font-size="14.8" font-family="'Liberation Serif', serif" font-weight="normal" text-anchor="start" fill="#000" >d)</text>
<text x="465.4" y="628.1" font-size="14.8" font-family="'Liberation Serif', serif" font-weight="bold" text-anchor="start" fill="#000" textLength="151.8" lengthAdjust="spacingAndGlyphs" >Training state of S-5 C-2</text>
<text x="537.2" y="676.6" font-size="12.9" font-family="'Liberation Serif', serif" font-weight="bold" text-anchor="middle" fill="#000" textLength="193.2" lengthAdjust="spacingAndGlyphs" >Gradient = 7.4541e-08, at epoch 17</text>
<path d="M397.5 742.4v-2.2 M397.5 682.6v2.2 M479.65 742.4v-2.2 M479.65 682.6v2.2 M561.79 742.4v-2.2 M561.79 682.6v2.2 M643.94 742.4v-2.2 M643.94 682.6v2.2 " stroke="#262626" stroke-width="1" fill="none"/>
<path d="M397.5 691.14h1.3 M676.8 691.14h-1.3 M397.5 699.69h1.3 M676.8 699.69h-1.3 M397.5 708.23h1.3 M676.8 708.23h-1.3 M397.5 716.77h1.3 M676.8 716.77h-1.3 M397.5 733.86h1.3 M676.8 733.86h-1.3 " stroke="#262626" stroke-width="1" fill="none"/>
<path d="M397.5 725.31h2.4 M676.8 725.31h-2.4 " stroke="#262626" stroke-width="1" fill="none"/>
<polyline points="397.5,693.4 413.93,704.4 430.36,715.3 446.79,710.9 463.22,717.5 479.65,715.3 496.08,715.3 512.51,716.6 528.94,724 545.36,731 561.79,733.7 578.22,734.6 594.65,735.4 611.08,736.5 627.51,737.6 643.94,739.1 660.37,740.7 676.8,742.9" fill="none" stroke="#ff00ff" stroke-width="2.8" stroke-linejoin="round" stroke-linecap="butt" />
<rect x="397.5" y="682.6" width="279.3" height="59.8" fill="none" stroke="#262626" stroke-width="1.1"/>
<text x="395" y="683.2" font-size="10" font-family="'Liberation Sans', sans-serif" fill="#333333" text-anchor="end">0</text>
<text transform="translate(388.84,689.1) scale(0.85,1.03)" font-size="12.5" font-family="'Liberation Sans', sans-serif" fill="#333333" text-anchor="end">10</text>
<text x="395" y="725.91" font-size="10" font-family="'Liberation Sans', sans-serif" fill="#333333" text-anchor="end">-5</text>
<text transform="translate(385.51,731.81) scale(0.85,1.03)" font-size="12.5" font-family="'Liberation Sans', sans-serif" fill="#333333" text-anchor="end">10</text>
<text transform="translate(368,713.1) rotate(-90)" font-size="12" font-family="'Liberation Serif', serif" text-anchor="middle" fill="#404040" textLength="42.1" lengthAdjust="spacingAndGlyphs">gradient</text>
<text x="537.2" y="761.3" font-size="12.9" font-family="'Liberation Serif', serif" font-weight="bold" text-anchor="middle" fill="#000" textLength="132.5" lengthAdjust="spacingAndGlyphs" >Mu = 1e-10, at epoch 17</text>
<path d="M397.5 826.6v-2.2 M397.5 767.6v2.2 M479.65 826.6v-2.2 M479.65 767.6v2.2 M561.79 826.6v-2.2 M561.79 767.6v2.2 M643.94 826.6v-2.2 M643.94 767.6v2.2 " stroke="#262626" stroke-width="1" fill="none"/>
<path d="M397.5 812.63h1.3 M676.8 812.63h-1.3 M397.5 804.96h1.3 M676.8 804.96h-1.3 M397.5 797.29h1.3 M676.8 797.29h-1.3 M397.5 789.62h1.3 M676.8 789.62h-1.3 M397.5 781.95h1.3 M676.8 781.95h-1.3 M397.5 774.28h1.3 M676.8 774.28h-1.3 " stroke="#262626" stroke-width="1" fill="none"/>
<path d="M397.5 820.3h2.4 M676.8 820.3h-2.4 " stroke="#262626" stroke-width="1" fill="none"/>
<polyline points="397.5,767.6 528.94,826.6 545.36,820.1 676.8,820.1" fill="none" stroke="#a83cff" stroke-width="2.8" stroke-linejoin="round" stroke-linecap="butt" />
<rect x="397.5" y="767.6" width="279.3" height="59" fill="none" stroke="#262626" stroke-width="1.1"/>
<text x="395" y="820.9" font-size="10" font-family="'Liberation Sans', sans-serif" fill="#333333" text-anchor="end">-10</text>
<text transform="translate(379.95,826.8) scale(0.85,1.03)" font-size="12.5" font-family="'Liberation Sans', sans-serif" fill="#333333" text-anchor="end">10</text>
<text transform="translate(367.5,801.3) rotate(-90)" font-size="13" font-family="'Liberation Serif', serif" text-anchor="middle" fill="#404040">mu</text>
<text x="537.2" y="846.9" font-size="12.9" font-family="'Liberation Serif', serif" font-weight="bold" text-anchor="middle" fill="#000" textLength="192.5" lengthAdjust="spacingAndGlyphs" >Validation Checks = 0, at epoch 17</text>
<path d="M397.5 912.4v-2.2 M397.5 852.1v2.2 M479.65 912.4v-2.2 M479.65 852.1v2.2 M561.79 912.4v-2.2 M561.79 852.1v2.2 M643.94 912.4v-2.2 M643.94 852.1v2.2 " stroke="#262626" stroke-width="1" fill="none"/>
<path d="M397.5 882.25h2.4 M676.8 882.25h-2.4 " stroke="#262626" stroke-width="1" fill="none"/>
<rect x="397.5" y="852.1" width="279.3" height="60.3" fill="none" stroke="#262626" stroke-width="1.1"/>
<path d="M397.5 906.8L402.1 912.8L397.5 918.8L392.9 912.8Z" fill="#f00014" stroke="#a00020" stroke-width="0.8"/>
<path d="M413.93 906.8L418.53 912.8L413.93 918.8L409.33 912.8Z" fill="#f00014" stroke="#a00020" stroke-width="0.8"/>
<path d="M430.36 906.8L434.96 912.8L430.36 918.8L425.76 912.8Z" fill="#f00014" stroke="#a00020" stroke-width="0.8"/>
<path d="M446.79 906.8L451.39 912.8L446.79 918.8L442.19 912.8Z" fill="#f00014" stroke="#a00020" stroke-width="0.8"/>
<path d="M463.22 906.8L467.82 912.8L463.22 918.8L458.62 912.8Z" fill="#f00014" stroke="#a00020" stroke-width="0.8"/>
<path d="M479.65 876.65L484.25 882.65L479.65 888.65L475.05 882.65Z" fill="#f00014" stroke="#a00020" stroke-width="0.8"/>
<path d="M496.08 846.5L500.68 852.5L496.08 858.5L491.48 852.5Z" fill="#f00014" stroke="#a00020" stroke-width="0.8"/>
<path d="M512.51 906.8L517.11 912.8L512.51 918.8L507.91 912.8Z" fill="#f00014" stroke="#a00020" stroke-width="0.8"/>
<path d="M528.94 906.8L533.54 912.8L528.94 918.8L524.34 912.8Z" fill="#f00014" stroke="#a00020" stroke-width="0.8"/>
<path d="M545.36 906.8L549.96 912.8L545.36 918.8L540.76 912.8Z" fill="#f00014" stroke="#a00020" stroke-width="0.8"/>
<path d="M561.79 906.8L566.39 912.8L561.79 918.8L557.19 912.8Z" fill="#f00014" stroke="#a00020" stroke-width="0.8"/>
<path d="M578.22 906.8L582.82 912.8L578.22 918.8L573.62 912.8Z" fill="#f00014" stroke="#a00020" stroke-width="0.8"/>
<path d="M594.65 906.8L599.25 912.8L594.65 918.8L590.05 912.8Z" fill="#f00014" stroke="#a00020" stroke-width="0.8"/>
<path d="M611.08 906.8L615.68 912.8L611.08 918.8L606.48 912.8Z" fill="#f00014" stroke="#a00020" stroke-width="0.8"/>
<path d="M627.51 906.8L632.11 912.8L627.51 918.8L622.91 912.8Z" fill="#f00014" stroke="#a00020" stroke-width="0.8"/>
<path d="M643.94 906.8L648.54 912.8L643.94 918.8L639.34 912.8Z" fill="#f00014" stroke="#a00020" stroke-width="0.8"/>
<path d="M660.37 906.8L664.97 912.8L660.37 918.8L655.77 912.8Z" fill="#f00014" stroke="#a00020" stroke-width="0.8"/>
<path d="M676.8 906.8L681.4 912.8L676.8 918.8L672.2 912.8Z" fill="#f00014" stroke="#a00020" stroke-width="0.8"/>
<text transform="translate(394.8,916.9) scale(0.9,1.04)" font-size="12.5" font-family="'Liberation Sans', sans-serif" font-weight="normal" text-anchor="end" fill="#333333" >0</text>
<text transform="translate(394.8,886.75) scale(0.9,1.04)" font-size="12.5" font-family="'Liberation Sans', sans-serif" font-weight="normal" text-anchor="end" fill="#333333" >1</text>
<text transform="translate(394.8,856.6) scale(0.9,1.04)" font-size="12.5" font-family="'Liberation Sans', sans-serif" font-weight="normal" text-anchor="end" fill="#333333" >2</text>
<text transform="translate(373.3,882.75) rotate(-90)" font-size="12.5" font-family="'Liberation Serif', serif" text-anchor="middle" fill="#404040">val fail</text>
<text transform="translate(397.5,927.2) scale(0.9,1.04)" font-size="12.5" font-family="'Liberation Sans', sans-serif" font-weight="normal" text-anchor="middle" fill="#333333" >0</text>
<text transform="translate(479.65,927.2) scale(0.9,1.04)" font-size="12.5" font-family="'Liberation Sans', sans-serif" font-weight="normal" text-anchor="middle" fill="#333333" >5</text>
<text transform="translate(561.79,927.2) scale(0.9,1.04)" font-size="12.5" font-family="'Liberation Sans', sans-serif" font-weight="normal" text-anchor="middle" fill="#333333" >10</text>
<text transform="translate(643.94,927.2) scale(0.9,1.04)" font-size="12.5" font-family="'Liberation Sans', sans-serif" font-weight="normal" text-anchor="middle" fill="#333333" >15</text>
<text x="537.5" y="940" font-size="13" font-family="'Liberation Serif', serif" font-weight="normal" text-anchor="middle" fill="#404040" textLength="53" lengthAdjust="spacingAndGlyphs" >17 Epochs</text>
<text x="439.3" y="961.3" font-size="14.8" font-family="'Liberation Serif', serif" font-weight="normal" text-anchor="start" fill="#000" >f)</text>
<text x="465.4" y="961.3" font-size="14.8" font-family="'Liberation Serif', serif" font-weight="bold" text-anchor="start" fill="#000" textLength="151.8" lengthAdjust="spacingAndGlyphs" >Training state of S-5 C-3</text>
</svg>
</body></html>
